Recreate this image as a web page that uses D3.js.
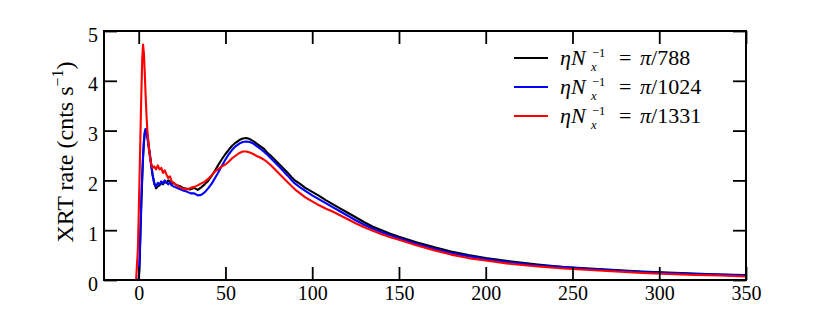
<!DOCTYPE html>
<html>
<head>
<meta charset="utf-8">
<script src="https://cdn.jsdelivr.net/npm/d3@7"></script>
<style>
  body { margin: 0; background: #fff; }
  svg { display: block; font-family: "Liberation Serif", serif; }
</style>
</head>
<body>
<svg id="chart" width="830" height="312"></svg>
<script>
// time axis shared by all three runs
const hours = [
    -20, -1.5, -0.5, 0, 0.5, 1, 1.5, 2, 2.5, 3,
    3.5, 4, 4.5, 5, 6, 7, 8, 9, 10, 11,
    12, 13, 14, 15, 16, 17, 18, 19, 20, 22,
    24, 26, 28, 30, 32, 34, 36, 38, 40, 42,
    44, 46, 48, 50, 52, 54, 56, 58, 60, 62,
    64, 66, 68, 70, 72, 74, 76, 78, 80, 82,
    84, 86, 88, 90, 93, 96, 100, 104, 108, 112,
    116, 120, 125, 130, 135, 140, 145, 150, 160, 170,
    180, 190, 200, 215, 230, 245, 260, 275, 290, 305,
    320, 335, 350
];

const rate788 = [
    0, 0, 0, 0, 0.3, 0.9, 1.5, 2.0, 2.45, 2.75,
    2.95, 3.03, 3.02, 2.92, 2.65, 2.38, 2.12, 1.95, 1.84, 1.88,
    1.9, 1.95, 1.92, 1.98, 1.95, 2.0, 1.97, 1.93, 1.95, 1.9,
    1.88, 1.84, 1.83, 1.82, 1.85, 1.81, 1.86, 1.92, 1.99, 2.09,
    2.2, 2.32, 2.43, 2.53, 2.62, 2.7, 2.76, 2.81, 2.84, 2.85,
    2.83, 2.79, 2.74, 2.69, 2.64, 2.56, 2.5, 2.43, 2.36, 2.29,
    2.22, 2.15, 2.07, 2.0, 1.93, 1.85, 1.77, 1.69, 1.6, 1.52,
    1.44, 1.36, 1.26, 1.16, 1.07, 1.0, 0.93, 0.87, 0.76, 0.66,
    0.57, 0.5, 0.44, 0.37, 0.31, 0.26, 0.23, 0.2, 0.17, 0.15,
    0.13, 0.11, 0.1
];

const rate1024 = [
    0, 0, 0, 0, 0.4, 1.0, 1.6, 2.1, 2.5, 2.8,
    2.97, 3.03, 3.0, 2.85, 2.6, 2.35, 2.1, 1.92, 1.88, 1.95,
    1.92, 1.98, 1.94, 2.0, 1.96, 1.92, 1.96, 1.9, 1.88, 1.85,
    1.82, 1.79, 1.77, 1.74, 1.74, 1.7, 1.71, 1.76, 1.84, 1.93,
    2.05, 2.17, 2.3, 2.42, 2.53, 2.62, 2.69, 2.74, 2.77, 2.78,
    2.77, 2.74, 2.69, 2.64, 2.58, 2.52, 2.45, 2.38, 2.31, 2.24,
    2.16, 2.09, 2.01, 1.94, 1.86, 1.79, 1.7, 1.62, 1.54, 1.46,
    1.38, 1.3, 1.2, 1.11, 1.03, 0.96, 0.9, 0.84, 0.73, 0.63,
    0.54, 0.48, 0.42, 0.35, 0.29, 0.26, 0.22, 0.19, 0.16, 0.14,
    0.12, 0.11, 0.09
];

const rate1331 = [
    0, 0, 0.6, 1.3, 2.1, 2.9, 3.7, 4.4, 4.73, 4.55,
    4.15, 3.7, 3.3, 3.0, 2.6, 2.35, 2.25, 2.28, 2.22, 2.3,
    2.22, 2.25, 2.15, 2.2, 2.12, 2.05, 2.08, 1.98, 1.95, 1.9,
    1.86, 1.83, 1.82, 1.85, 1.87, 1.9, 1.94, 1.97, 2.03, 2.1,
    2.18, 2.23, 2.28, 2.32, 2.38, 2.45, 2.5, 2.55, 2.58, 2.58,
    2.56, 2.53, 2.49, 2.46, 2.42, 2.37, 2.31, 2.24, 2.17, 2.1,
    2.03, 1.96, 1.89, 1.82, 1.74, 1.66, 1.58, 1.5, 1.43, 1.37,
    1.3, 1.23, 1.14, 1.06, 0.99, 0.92, 0.86, 0.81, 0.7, 0.6,
    0.51, 0.44, 0.39, 0.32, 0.27, 0.23, 0.2, 0.17, 0.14, 0.12,
    0.1, 0.09, 0.07
];

const denominators = ['788', '1024', '1331'];
const colors = ['#000000', '#0000ff', '#ff0000'];
const xTicks = [0, 50, 100, 150, 200, 250, 300, 350];
const yTicks = [0, 1, 2, 3, 4, 5];

const series = [rate788, rate1024, rate1331].map((values, i) => ({
    denom: denominators[i],
    color: colors[i],
    values: values
}));

const svg = d3.select('#chart');
const box = { left: 104, right: 746, top: 31, bottom: 280 };
const tickFont = 20;

const x = d3.scaleLinear().domain([-20, 350]).range([box.left, box.right]);
const y = d3.scaleLinear().domain([0, 5]).range([box.bottom, box.top]);

svg.append('clipPath').attr('id', 'clip')
    .append('rect')
    .attr('x', box.left).attr('y', box.top)
    .attr('width', box.right - box.left).attr('height', box.bottom - box.top);

// curves
const line = d3.line()
    .x((d, i) => x(hours[i]))
    .y(d => y(d));

svg.append('g').attr('clip-path', 'url(#clip)')
    .selectAll('path')
    .data(series)
    .join('path')
    .attr('d', d => line(d.values))
    .attr('fill', 'none')
    .attr('stroke', d => d.color)
    .attr('stroke-width', 2.1)
    .attr('stroke-linejoin', 'round');

// axes, ticks pointing inward on all four sides
function styleAxis(g) {
    g.select('.domain').remove();
    g.selectAll('.tick line').attr('stroke', '#000').attr('stroke-width', 1.8);
    g.selectAll('.tick text')
        .attr('fill', '#000')
        .attr('font-size', tickFont)
        .attr('font-family', '"Liberation Serif", serif');
}

svg.append('g')
    .attr('transform', `translate(0,${box.bottom})`)
    .call(d3.axisBottom(x).tickValues(xTicks).tickSize(-13).tickPadding(6))
    .call(styleAxis);

svg.append('g')
    .attr('transform', `translate(0,${box.top})`)
    .call(d3.axisTop(x).tickValues(xTicks).tickSize(-13).tickFormat(''))
    .call(styleAxis);

svg.append('g')
    .attr('transform', `translate(${box.left},0)`)
    .call(d3.axisLeft(y).tickValues(yTicks).tickSize(-13).tickPadding(6).tickFormat(d3.format('d')))
    .call(styleAxis)
    .selectAll('.tick text').attr('dy', '0.5em');

svg.append('g')
    .attr('transform', `translate(${box.right},0)`)
    .call(d3.axisRight(y).tickValues(yTicks).tickSize(-13).tickFormat(''))
    .call(styleAxis);

svg.append('rect')
    .attr('x', box.left).attr('y', box.top)
    .attr('width', box.right - box.left).attr('height', box.bottom - box.top)
    .attr('fill', 'none')
    .attr('stroke', '#000')
    .attr('stroke-width', 2);

// y axis title: XRT rate (cnts s^-1)
const ylab = svg.append('text')
    .attr('transform', 'translate(73,152) rotate(-90)')
    .attr('text-anchor', 'middle')
    .attr('font-size', 24)
    .attr('fill', '#000');
ylab.append('tspan').text('XRT rate (cnts s');
ylab.append('tspan').attr('font-size', 16).attr('dy', -10).text('\u22121');
ylab.append('tspan').attr('dy', 10).text(')');

// legend: eta N_x^-1 = pi/denominator
const legendFont = 22;
const scriptFont = 12.5;
const legend = svg.append('g').attr('transform', 'translate(514,58)');
series.forEach((s, i) => {
    const row = legend.append('g').attr('transform', `translate(0,${i * 29})`);
    row.append('line')
        .attr('x1', 0).attr('x2', 34)
        .attr('stroke', s.color).attr('stroke-width', 2.1);

    const t = row.append('text')
        .attr('y', 7)
        .attr('font-size', legendFont)
        .attr('fill', '#000');
    t.append('tspan').attr('x', 46).attr('font-style', 'italic').text('\u03b7N');
    t.append('tspan')
        .attr('x', 77)
        .attr('font-style', 'italic')
        .attr('font-size', scriptFont)
        .attr('dy', 6)
        .text('x');
    t.append('tspan')
        .attr('x', 78)
        .attr('font-size', scriptFont)
        .attr('dy', -14.5)
        .text('\u22121');
    t.append('tspan').attr('x', 105).attr('dy', 8.5).text('=');
    t.append('tspan').attr('x', 126).attr('font-style', 'italic').text('\u03c0');
    t.append('tspan').text('/' + s.denom);
});
</script>
</body>
</html>
